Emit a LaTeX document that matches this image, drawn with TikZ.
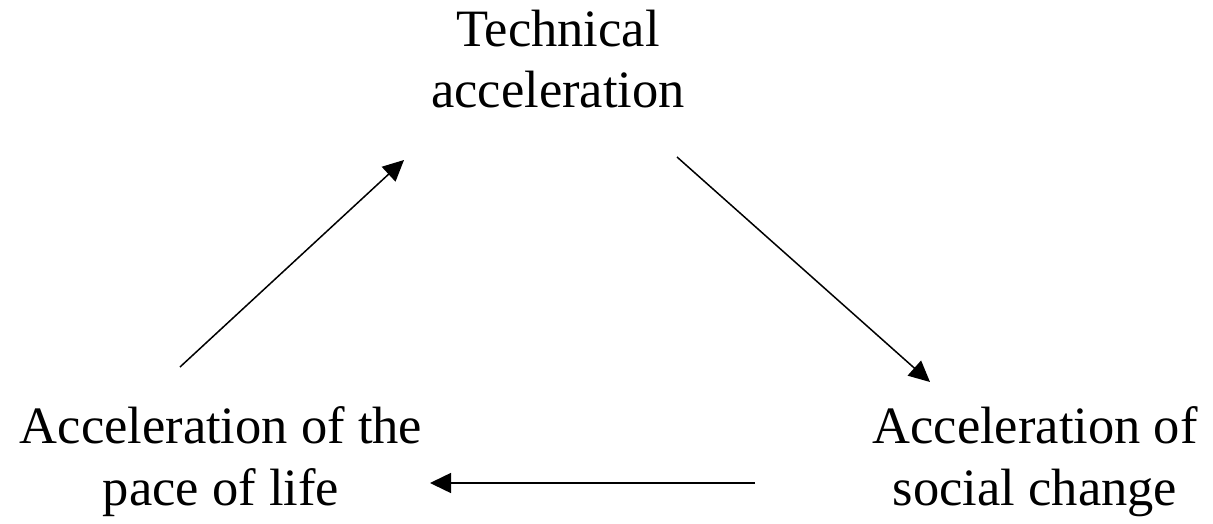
\documentclass[tikz,border=0pt]{standalone}
\usepackage{fontspec}
\setmainfont{Liberation Serif}
\usetikzlibrary{arrows.meta}
\begin{document}
\begin{tikzpicture}[x=1pt,y=-1pt,
  lbl/.style={align=center,inner sep=0pt,anchor=base,font=\fontsize{52.5}{61.5}\selectfont},
  conn/.style={line width=1.5pt,-{Triangle[length=21pt,width=20pt]}}]
\useasboundingbox (0,0) rectangle (1213,524);
\node[lbl] (tech) at (558,108) {Technical\\acceleration};
\node[lbl] (life) at (221,505) {Acceleration of the\\pace of life};
\node[lbl] (soc) at (1035,505) {Acceleration of\\social change};
\coordinate (a1) at (180,367);
\coordinate (a2) at (404,160);
\coordinate (b1) at (677,157);
\coordinate (b2) at (930,382);
\coordinate (c1) at (755,483);
\coordinate (c2) at (430,483);
\draw[conn] (a1) -- (a2);
\draw[conn] (b1) -- (b2);
\draw[conn] (c1) -- (c2);
\end{tikzpicture}
\end{document}
